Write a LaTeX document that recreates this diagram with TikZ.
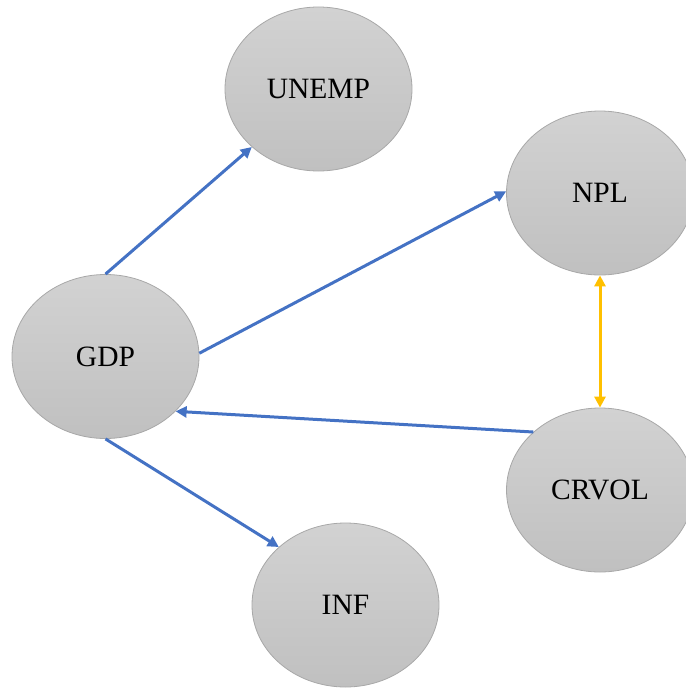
\documentclass[tikz,border=0pt]{standalone}
\usepackage{fontspec}
\setmainfont{Liberation Serif}
\usetikzlibrary{shapes.geometric,arrows.meta}
\definecolor{topgray}{HTML}{D2D2D2}
\definecolor{botgray}{HTML}{C0C0C0}
\definecolor{edgegray}{HTML}{A8A8A8}
\definecolor{arrowblue}{HTML}{4472C4}
\definecolor{arrowgold}{HTML}{FFC000}
\tikzset{
  var/.style={ellipse, draw=edgegray, line width=0.8pt, top color=topgray, bottom color=botgray,
    minimum width=187pt, minimum height=164pt, inner sep=0pt,
    font=\fontsize{29.5}{33}\selectfont, text=black},
  link/.style={draw=arrowblue, line width=3pt, -{Triangle[length=11pt,width=11pt]}},
  biarrow/.style={draw=arrowgold, line width=3pt, {Triangle[length=11pt,width=11pt]}-{Triangle[length=11pt,width=11pt]}}
}
\begin{document}
\begin{tikzpicture}[x=1pt,y=-1pt]
\useasboundingbox (0,0) rectangle (685,693);
\node[var] (unemp) at (318.5,89) {UNEMP};
\node[var] (npl) at (600,193) {NPL};
\node[var] (gdp) at (105.5,356.5) {GDP};
\node[var] (crvol) at (600,490) {CRVOL};
\node[var] (inf) at (345.5,605) {INF};
\draw[link] (gdp.north) -- (unemp.221.6);
\draw[link] (gdp.2) -- (npl.179);
\draw[link] (crvol.139) -- (gdp.322);
\draw[link] (gdp.south) -- (inf.139);
\draw[biarrow] (npl.south) -- (crvol.north);
\end{tikzpicture}
\end{document}
